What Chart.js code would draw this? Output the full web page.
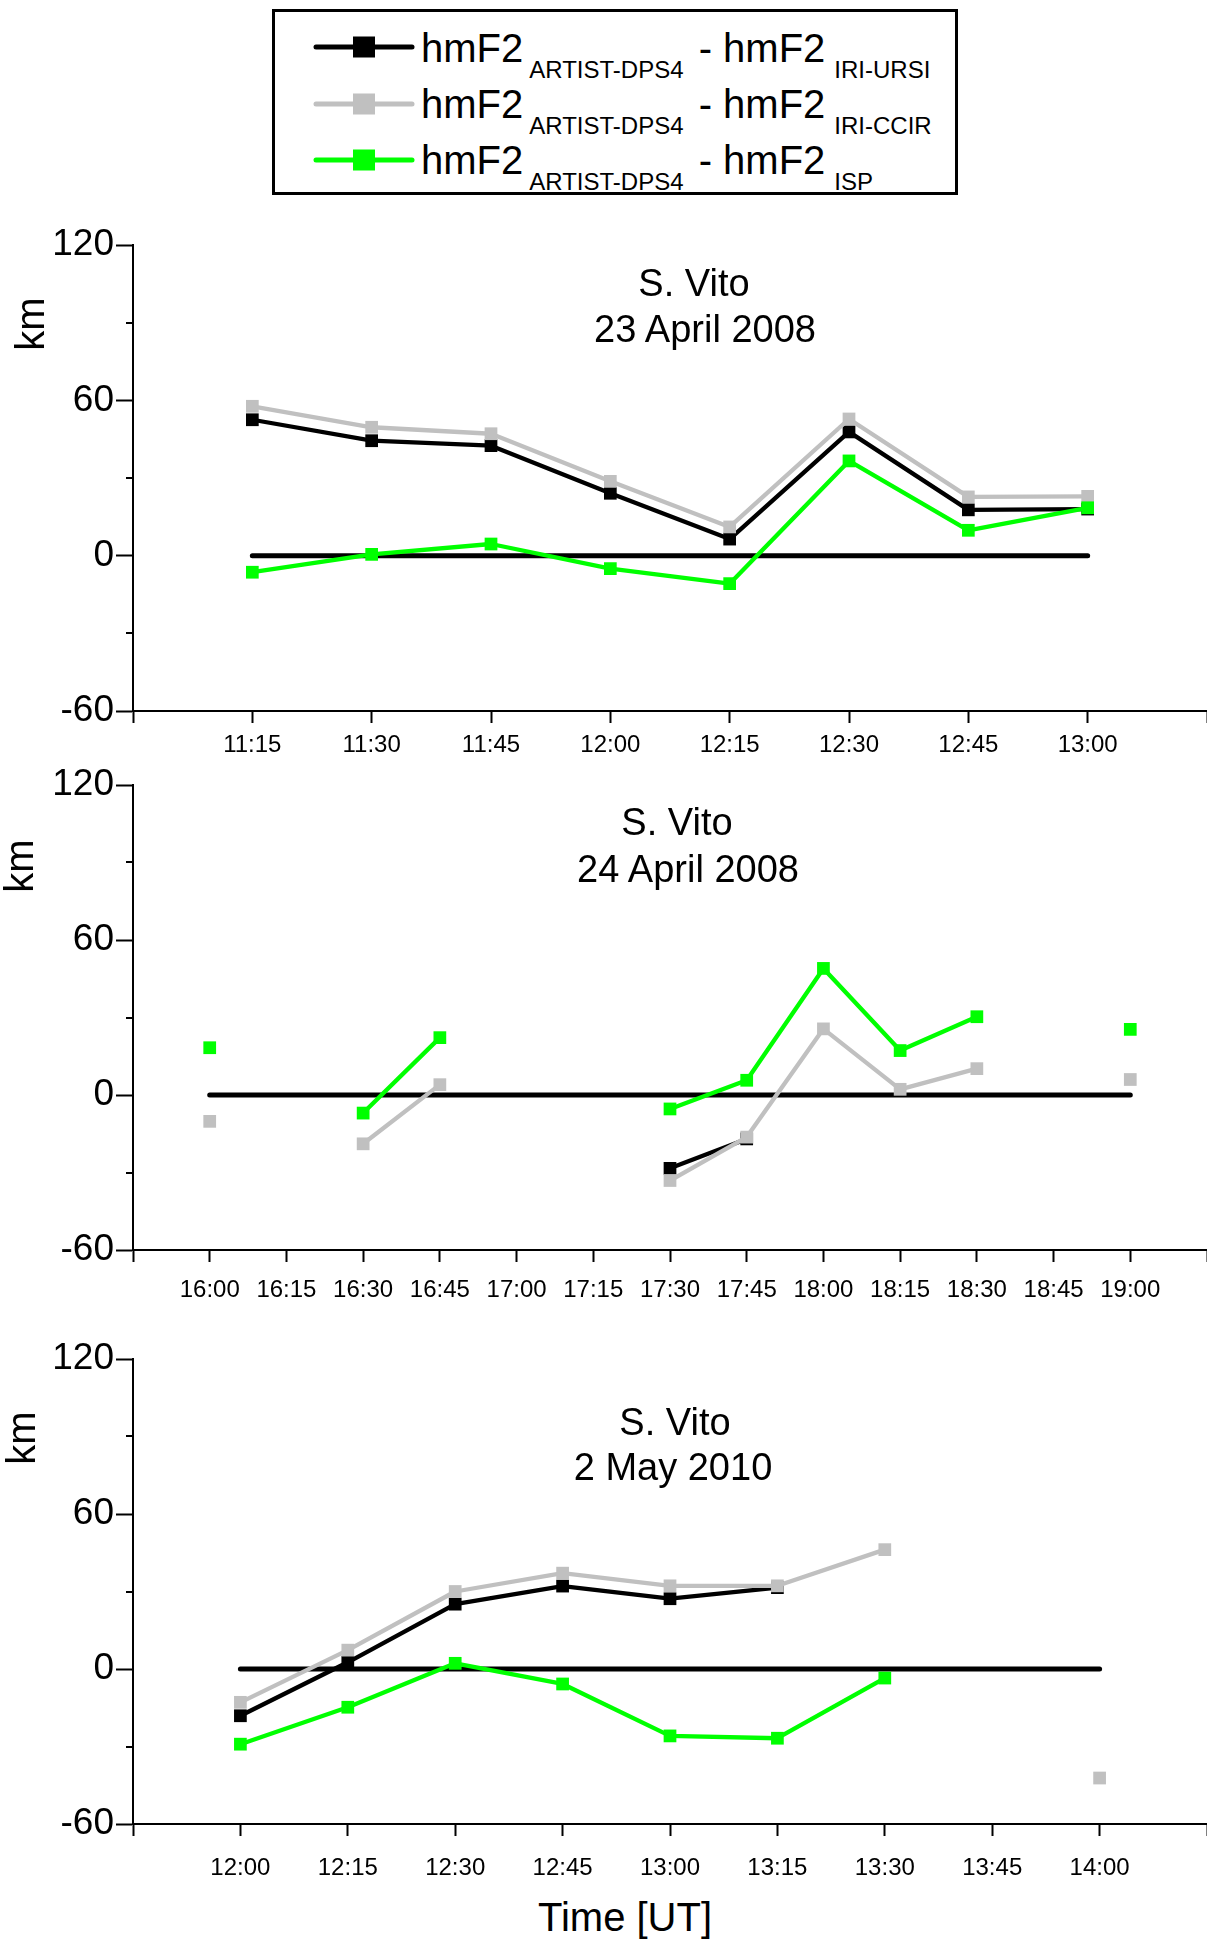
<!DOCTYPE html>
<html>
<head>
<meta charset="utf-8">
<script src="https://cdn.jsdelivr.net/npm/chart.js@4.4.1/dist/chart.umd.min.js"></script>
<style>
html,body{margin:0;padding:0;background:#fff;}
body{width:1207px;height:1944px;position:relative;overflow:hidden;font-family:"Liberation Sans",Arial,sans-serif;color:#000;}
canvas{position:absolute;left:0;}
.title{position:absolute;width:600px;text-align:center;font-size:38px;line-height:38px;white-space:nowrap;}
.km{position:absolute;width:100px;height:40px;line-height:40px;font-size:40px;text-align:center;transform:rotate(-90deg);white-space:nowrap;}
#legend{position:absolute;left:272px;top:9px;width:686px;height:186px;box-sizing:border-box;border:3px solid #000;}
.lrow{position:absolute;left:421px;font-size:40px;line-height:40px;white-space:nowrap;}
.sb{font-size:24px;line-height:0;position:relative;top:16px;margin-left:6px;}
.sb.a{margin-right:4px;}
.sb.b{margin-left:9px;}
.lsym{position:absolute;left:306px;width:116px;height:30px;}
#xtitle{position:absolute;left:425px;width:400px;text-align:center;font-size:40px;line-height:40px;top:1897px;white-space:nowrap;}
</style>
</head>
<body>
<canvas id="c1" width="1207" height="556" style="top:215px;width:1207px;height:556px"></canvas>
<canvas id="c2" width="1207" height="560" style="top:755px;width:1207px;height:560px"></canvas>
<canvas id="c3" width="1207" height="565" style="top:1329px;width:1207px;height:565px"></canvas>

<div id="legend"></div>
<svg class="lsym" style="top:32px"><line x1="10" y1="15" x2="106" y2="15" stroke="#000" stroke-width="5" stroke-linecap="round"/><rect x="47" y="4.5" width="22" height="21" fill="#000"/></svg>
<svg class="lsym" style="top:89px"><line x1="10" y1="15" x2="106" y2="15" stroke="#c0c0c0" stroke-width="5" stroke-linecap="round"/><rect x="47" y="4.5" width="22" height="21" fill="#c0c0c0"/></svg>
<svg class="lsym" style="top:145px"><line x1="10" y1="15" x2="106" y2="15" stroke="#00ff00" stroke-width="5" stroke-linecap="round"/><rect x="47" y="4.5" width="22" height="21" fill="#00ff00"/></svg>
<div class="lrow" style="top:28px">hmF2<span class="sb a">ARTIST-DPS4</span> - hmF2<span class="sb b">IRI-URSI</span></div>
<div class="lrow" style="top:84px">hmF2<span class="sb a">ARTIST-DPS4</span> - hmF2<span class="sb b">IRI-CCIR</span></div>
<div class="lrow" style="top:140px">hmF2<span class="sb a">ARTIST-DPS4</span> - hmF2<span class="sb b">ISP</span></div>

<div class="title" style="left:394px;top:264px">S. Vito</div>
<div class="title" style="left:405px;top:310px">23 April 2008</div>
<div class="title" style="left:377px;top:803px">S. Vito</div>
<div class="title" style="left:388px;top:850px">24 April 2008</div>
<div class="title" style="left:375px;top:1403px">S. Vito</div>
<div class="title" style="left:373px;top:1448px">2 May 2010</div>

<div class="km" style="left:-20px;top:304px">km</div>
<div class="km" style="left:-31px;top:846px">km</div>
<div class="km" style="left:-29px;top:1418px">km</div>

<div id="xtitle">Time [UT]</div>

<script>
// ---------- data ----------
const categories1 = ['11:15','11:30','11:45','12:00','12:15','12:30','12:45','13:00'];
const ursi1 = [52.5, 44.4, 42.5, 24.1, 6.4, 47.8, 17.7, 18.0];
const ccir1 = [57.7, 49.6, 47.1, 28.7, 11.1, 52.8, 22.7, 22.9];
const isp1  = [-6.4, 0.5, 4.5, -5.0, -10.8, 36.6, 9.8, 18.5];
const zero1 = [0, 0, 0, 0, 0, 0, 0, 0];
const range1 = ['11:00', '13:15'];

const categories2 = ['16:00','16:15','16:30','16:45','17:00','17:15','17:30','17:45','18:00','18:15','18:30','18:45','19:00'];
const ursi2 = [null, null, null, null, null, null, -28.4, -17.0, null, null, null, null, null];
const ccir2 = [-10.2, null, -18.9, 4.0, null, null, -33.1, -16.3, 25.6, 2.2, 10.2, null, 6.0];
const isp2  = [18.3, null, -7.0, 22.2, null, null, -5.4, 5.7, 49.0, 17.2, 30.3, null, 25.4];
const zero2 = [0, 0, 0, 0, 0, 0, 0, 0, 0, 0, 0, 0, 0];
const range2 = ['15:45', '19:15'];

const categories3 = ['12:00','12:15','12:30','12:45','13:00','13:15','13:30','13:45','14:00'];
const ursi3 = [-18.1, 2.6, 25.1, 32.1, 27.2, 31.5, null, null, null];
const ccir3 = [-12.9, 7.3, 30.0, 37.1, 32.2, 32.2, 46.2, null, -42.2];
const isp3  = [-29.1, -14.8, 2.2, -5.8, -25.9, -26.8, -3.5, null, null];
const zero3 = [0, 0, 0, 0, 0, 0, 0, 0, 0];
const range3 = ['11:45', '14:15'];

const yLabels = [-60, 0, 60, 120];
const yRange = [-60, 120];

// ---------- helpers ----------
const FONT = '"Liberation Sans", Arial, sans-serif';
Chart.defaults.font.family = FONT;
Chart.defaults.color = '#000';

function toMin(s){ const p = s.split(':').map(Number); return p[0]*60 + p[1]; }
function fmt(v){ const h = Math.floor(v/60), m = v % 60; return h + ':' + String(m).padStart(2,'0'); }
function pts(cats, vals){ return cats.map((c,i) => ({x: toMin(c), y: vals[i]})); }

const minorTicks = {
  id: 'minorTicks',
  afterDraw(chart){
    const s = chart.scales.y, ctx = chart.ctx;
    ctx.save();
    ctx.strokeStyle = '#000';
    ctx.lineWidth = 2;
    s.ticks.forEach(t => {
      if (!yLabels.includes(t.value)) {
        const y = Math.round(s.getPixelForValue(t.value));
        ctx.beginPath();
        ctx.moveTo(s.right - 7, y);
        ctx.lineTo(s.right, y);
        ctx.stroke();
      }
    });
    ctx.restore();
  }
};

function series(data, color, order, isZero){
  return {
    data: data,
    borderColor: color,
    backgroundColor: color,
    borderWidth: isZero ? 5 : 4.3,
    borderCapStyle: 'round',
    borderJoinStyle: 'round',
    pointStyle: 'rect',
    pointRadius: isZero ? 0 : 9,
    pointBorderWidth: 0,
    pointBackgroundColor: color,
    spanGaps: false,
    tension: 0,
    order: order
  };
}

function makePanel(id, xh, labelPad, cats, range, ursi, ccir, isp, zero){
  const xmin = toMin(range[0]), xmax = toMin(range[1]);
  new Chart(document.getElementById(id), {
    type: 'line',
    data: {
      datasets: [
        series(pts(cats, zero), '#000000', 3, true),
        series(pts(cats, ursi), '#000000', 2, false),
        series(pts(cats, ccir), '#c0c0c0', 1, false),
        series(pts(cats, isp),  '#00ff00', 0, false)
      ]
    },
    options: {
      responsive: false,
      animation: false,
      events: [],
      layout: { autoPadding: false, padding: { top: 30, left: 0, right: 0, bottom: 0 } },
      plugins: { legend: { display: false }, tooltip: { enabled: false }, title: { display: false } },
      scales: {
        x: {
          type: 'linear',
          min: xmin, max: xmax,
          afterFit: s => { s.height = xh; s.paddingLeft = 0; s.paddingRight = 0; },
          border: { display: true, color: '#000', width: 2 },
          grid: { drawOnChartArea: false, drawTicks: true, tickLength: 12, tickWidth: 2, tickColor: '#000' },
          ticks: {
            stepSize: 15, autoSkip: false, maxRotation: 0, minRotation: 0,
            padding: labelPad, color: '#000',
            font: { family: FONT, size: 24 },
            callback: v => (v === xmin || v === xmax) ? '' : fmt(v)
          }
        },
        y: {
          type: 'linear',
          min: yRange[0], max: yRange[1],
          afterFit: s => { s.width = 133; },
          border: { display: true, color: '#000', width: 2 },
          grid: {
            drawOnChartArea: false, drawTicks: true, tickLength: 17, tickWidth: 2,
            tickColor: c => (c.tick && yLabels.includes(c.tick.value)) ? '#000' : 'rgba(0,0,0,0)'
          },
          ticks: {
            stepSize: 30, padding: 2, color: '#000',
            font: { family: FONT, size: 37 },
            callback: v => yLabels.includes(v) ? String(v) : ''
          }
        }
      }
    },
    plugins: [minorTicks]
  });
}

makePanel('c1', 60, 8, categories1, range1, ursi1, ccir1, isp1, zero1);
makePanel('c2', 65, 14, categories2, range2, ursi2, ccir2, isp2, zero2);
makePanel('c3', 70, 18, categories3, range3, ursi3, ccir3, isp3, zero3);
</script>
</body>
</html>
